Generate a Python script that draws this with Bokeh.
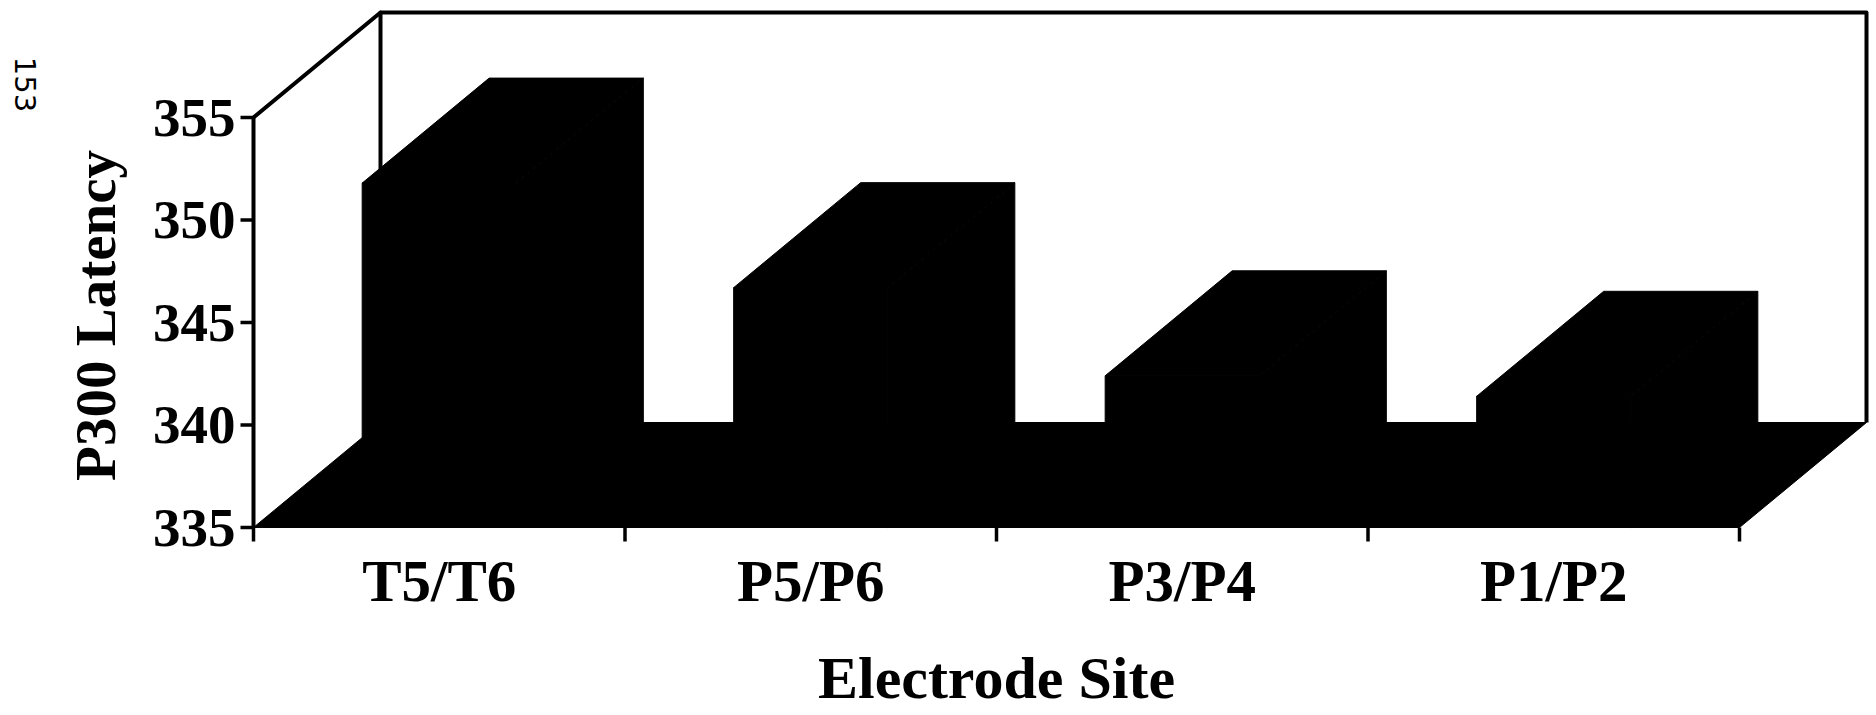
import math
from bokeh.plotting import figure
from bokeh.models import Range1d
from bokeh.embed import file_html
from bokeh.resources import INLINE
from bokeh.core.properties import value

# ---- data ----
categories = ["T5/T6", "P5/P6", "P3/P4", "P1/P2"]
latency = [351.8, 346.7, 342.4, 341.4]
y_ticks = [335, 340, 345, 350, 355]
y_tick_labels = ["335", "340", "345", "350", "355"]
y_floor, y_top = 335, 355
x_title = "Electrode Site"
y_title = "P300 Latency"
page_number = "153"

n = len(categories)

# ---- layout (pixels) ----
W, H = 1876, 715
ORIGIN_X, ORIGIN_Y = 253, 527    # px of (x=0, y=335)
PX_X, PX_Y = 371.5, 20.5         # px per category / per latency unit
DX = 127 / PX_X                  # depth offset (categories)
DY = 105 / PX_Y                  # depth offset (latency units)
BAR_W = 0.415


def dx(px):
    return (px - ORIGIN_X) / PX_X


def dy(py):
    return y_floor + (ORIGIN_Y - py) / PX_Y


p = figure(width=W, height=H,
           x_range=Range1d(dx(0), dx(W)),
           y_range=Range1d(dy(H), dy(0)),
           output_backend="svg", toolbar_location=None,
           x_axis_location=None, y_axis_location=None,
           min_border=0)
p.outline_line_color = None
p.xgrid.visible = False
p.ygrid.visible = False
p.background_fill_color = "white"
p.border_fill_color = "white"

SERIF = value("Liberation Serif")
LW = 4

# back wall
bx0, bx1 = DX, n + DX
p.line([bx0, bx0, bx1, bx1], [y_floor + DY, y_top + DY, y_top + DY, y_floor + DY],
       line_color="black", line_width=LW, line_join="round")
# left side wall top edge
p.line([0, DX], [y_top, y_top + DY], line_color="black", line_width=LW, line_cap="round")

# floor
p.patch([0, n, n + DX, DX], [y_floor, y_floor, y_floor + DY, y_floor + DY],
        fill_color="black", line_color="black", line_width=1)

# bars (front, top and side faces)
xs, ys = [], []
for i, v in enumerate(latency):
    x0 = i + 0.5 - BAR_W / 2
    x1 = x0 + BAR_W
    xs.append([x0, x1, x1, x0]); ys.append([y_floor, y_floor, v, v])
    xs.append([x0, x1, x1 + DX, x0 + DX]); ys.append([v, v, v + DY, v + DY])
    xs.append([x1, x1 + DX, x1 + DX, x1]); ys.append([y_floor, y_floor + DY, v + DY, v])
p.patches(xs, ys, fill_color="black", line_color="black", line_width=1)

# front vertical axis line
p.line([0, 0], [y_floor, y_top], line_color="black", line_width=LW)

# y ticks + labels
tick_len_x = 13 / PX_X
p.segment(x0=[-tick_len_x] * len(y_ticks), y0=y_ticks, x1=[0] * len(y_ticks), y1=y_ticks,
          line_color="black", line_width=3.5)
p.text(x=[dx(235)] * len(y_ticks), y=y_ticks, text=y_tick_labels,
       text_align="right", text_baseline="middle",
       text_font=SERIF, text_font_style="bold", text_font_size="55px", text_color="black")

# x ticks + labels
xt = list(range(n + 1))
tick_len_y = 14 / PX_Y
p.segment(x0=xt, y0=[y_floor] * len(xt), x1=xt, y1=[y_floor - tick_len_y] * len(xt),
          line_color="black", line_width=3.5)
p.text(x=[i + 0.5 for i in range(n)], y=[dy(580)] * n, text=categories,
       text_align="center", text_baseline="middle",
       text_font=SERIF, text_font_style="bold", text_font_size="59px", text_color="black")

# axis titles
p.text(x=[dx(95)], y=[dy(315)], text=[y_title], angle=math.pi / 2,
       text_align="center", text_baseline="middle",
       text_font=SERIF, text_font_style="bold", text_font_size="57px", text_color="black")
p.text(x=[n / 2], y=[dy(677)], text=[x_title],
       text_align="center", text_baseline="middle",
       text_font=SERIF, text_font_style="bold", text_font_size="60px", text_color="black")
p.text(x=[dx(25)], y=[dy(84)], text=[page_number], angle=-math.pi / 2,
       text_align="center", text_baseline="middle",
       text_font=value("DejaVu Sans"), text_font_size="29px", text_color="black")

open("out.html", "w").write(file_html(p, INLINE))
